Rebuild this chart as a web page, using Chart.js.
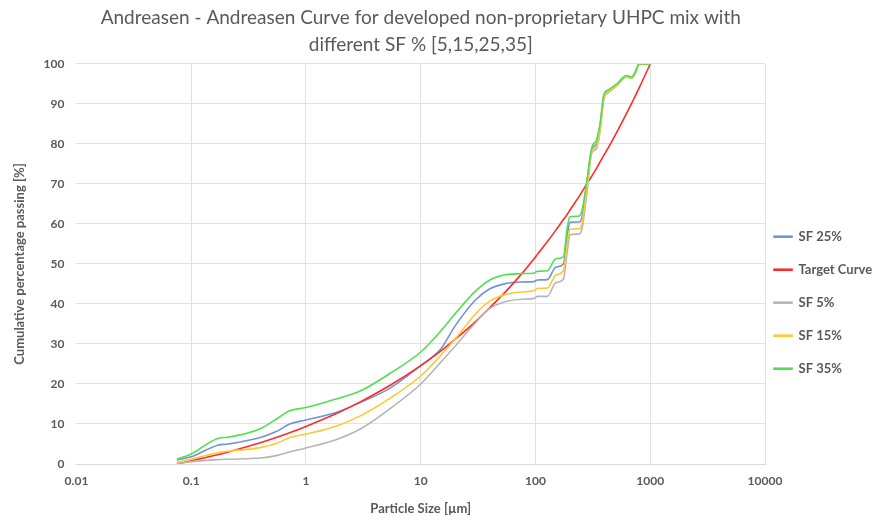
<!DOCTYPE html>
<html>
<head>
<meta charset="utf-8">
<title>Andreasen curve</title>
<script src="https://cdn.jsdelivr.net/npm/chart.js@4.4.0/dist/chart.umd.min.js"></script>
<style>
  html, body { margin: 0; padding: 0; background: #fff; }
  #wrap { width: 878px; height: 522px; }
</style>
</head>
<body>
<div id="wrap"><canvas id="psdChart"></canvas></div>
<script>
// particle sizes in µm, shared by every series
const sizes = [0.075, 0.1, 0.17, 0.21, 0.4, 0.55, 0.72, 1, 1.8, 3, 5.5, 10, 15, 20, 30, 40, 55, 75, 97, 104, 127, 150, 175, 190, 200, 240, 255, 280, 310, 340, 365, 395, 430, 510, 620, 690, 740, 800, 1000];

// cumulative % passing
const sf25 = [1.0, 1.8, 4.7, 5.0, 6.6, 8.1, 10.0, 11.0, 12.8, 15.4, 19.1, 24.6, 28.8, 34.6, 41.0, 43.8, 45.1, 45.5, 45.6, 46.0, 46.1, 49.2, 50.0, 57.5, 60.4, 60.5, 61.8, 70.0, 78.8, 80.0, 84.5, 92.2, 93.2, 94.8, 96.9, 96.6, 97.8, 100, 100];
const target = [0, 0.8, 2.3, 3.0, 5.3, 6.6, 7.8, 9.4, 12.5, 15.6, 19.8, 24.6, 28.3, 31.2, 35.6, 39.1, 43.1, 47.4, 51.3, 52.4, 55.6, 58.4, 61.1, 62.5, 63.5, 66.9, 68.1, 70.0, 72.0, 73.9, 75.5, 77.2, 79.0, 82.9, 87.6, 90.2, 92.0, 94.0, 100];
const sf5 = [0.1, 0.6, 1.1, 1.2, 1.5, 2.1, 3.0, 4.0, 6.0, 8.8, 14.0, 20.0, 25.5, 29.5, 35.3, 38.9, 40.6, 41.2, 41.4, 41.9, 41.9, 45.3, 46.2, 53.5, 57.3, 57.5, 59.0, 67.5, 77.8, 78.8, 83.0, 91.3, 92.8, 94.5, 96.7, 96.4, 97.6, 100, 100];
const sf15 = [0.4, 1.2, 2.8, 3.2, 4.1, 5.1, 6.6, 7.5, 9.4, 12.1, 16.6, 22.0, 27.2, 31.3, 37.5, 40.7, 42.4, 43.0, 43.3, 43.9, 44.0, 47.2, 48.3, 55.5, 58.7, 58.8, 60.4, 69.0, 78.3, 79.3, 83.5, 91.7, 93.0, 94.7, 96.8, 96.5, 97.7, 100, 100];
const sf35 = [1.2, 2.5, 6.4, 6.7, 8.8, 11.2, 13.3, 14.1, 16.2, 18.3, 22.8, 28.0, 33.3, 37.6, 43.2, 46.0, 47.3, 47.6, 47.7, 48.2, 48.3, 51.3, 51.8, 59.5, 61.8, 62.0, 63.5, 70.8, 79.2, 81.0, 85.0, 92.5, 93.5, 95.0, 97.1, 96.8, 98.0, 100, 100];

const xTicks = [0.01, 0.1, 1, 10, 100, 1000, 10000];

const textGrey = '#595959';
const gridGrey = '#e2e2e2';

function toPoints(values) {
  return values.map((v, i) => ({ x: sizes[i], y: v }));
}

function makeSeries(label, values, color, order) {
  return {
    label: label,
    data: toPoints(values),
    borderColor: color,
    backgroundColor: color,
    borderWidth: 1.6,
    pointRadius: 0,
    showLine: true,
    cubicInterpolationMode: 'monotone',
    order: order
  };
}

// Excel draws later series on top, so SF 35% gets the lowest order
const datasets = [
  makeSeries('SF 25%', sf25, '#7194d8', 4),
  makeSeries('Target Curve', target, '#ff2b2b', 3),
  makeSeries('SF 5%', sf5, '#b5b5b5', 2),
  makeSeries('SF 15%', sf15, '#ffc832', 1),
  makeSeries('SF 35%', sf35, '#4fe04f', 0)
];

// the legend reaches a little into the plot's right margin, like in Excel
const legendNudge = {
  id: 'legendNudge',
  afterLayout(chart) {
    chart.legend.left -= 11;
  }
};

new Chart(document.getElementById('psdChart'), {
  type: 'scatter',
  data: { datasets: datasets },
  plugins: [legendNudge],
  options: {
    responsive: true,
    maintainAspectRatio: false,
    animation: false,
    layout: { padding: { left: 8, right: 0, top: 2, bottom: 5 } },
    plugins: {
      title: {
        display: true,
        fullSize: false,
        text: ['Andreasen - Andreasen Curve for developed non-proprietary UHPC mix with', 'different SF % [5,15,25,35]'],
        color: textGrey,
        font: { family: 'Lato', size: 19, weight: 'normal', lineHeight: 1.42 },
        padding: { top: 2, bottom: 6 }
      },
      legend: {
        position: 'right',
        maxWidth: 113,
        title: { display: true, text: ' ', padding: { top: 72, bottom: 0 } },
        labels: {
          color: textGrey,
          font: { family: 'Lato', size: 13, weight: 'bold' },
          boxWidth: 18,
          boxHeight: 1,
          padding: 20,
          sort: (a, b) => a.datasetIndex - b.datasetIndex
        }
      },
      tooltip: { enabled: false }
    },
    scales: {
      x: {
        type: 'logarithmic',
        min: 0.01,
        max: 10000,
        afterBuildTicks: scale => {
          scale.ticks = xTicks.map(v => ({ value: v }));
        },
        ticks: {
          color: textGrey,
          font: { family: 'Lato', size: 12, weight: 'bold' },
          padding: 10,
          maxRotation: 0,
          callback: v => String(v)
        },
        grid: {
          color: ctx => ctx.index === 0 ? 'rgba(0,0,0,0)' : gridGrey,
          drawTicks: false
        },
        border: { color: '#d9d9d9' },
        title: {
          display: true,
          text: 'Particle Size [µm]',
          color: textGrey,
          font: { family: 'Lato', size: 13, weight: 'bold' },
          padding: { top: 3, bottom: 0 }
        }
      },
      y: {
        min: 0,
        max: 100,
        ticks: {
          stepSize: 10,
          color: textGrey,
          font: { family: 'Lato', size: 12, weight: 'bold' },
          padding: 12
        },
        grid: { color: gridGrey, drawTicks: false },
        border: { display: false },
        title: {
          display: true,
          text: 'Cumulative percentage passing [%]',
          color: textGrey,
          font: { family: 'Lato', size: 13, weight: 'bold' },
          padding: { top: 4, bottom: 4 }
        }
      }
    }
  }
});
</script>
</body>
</html>
